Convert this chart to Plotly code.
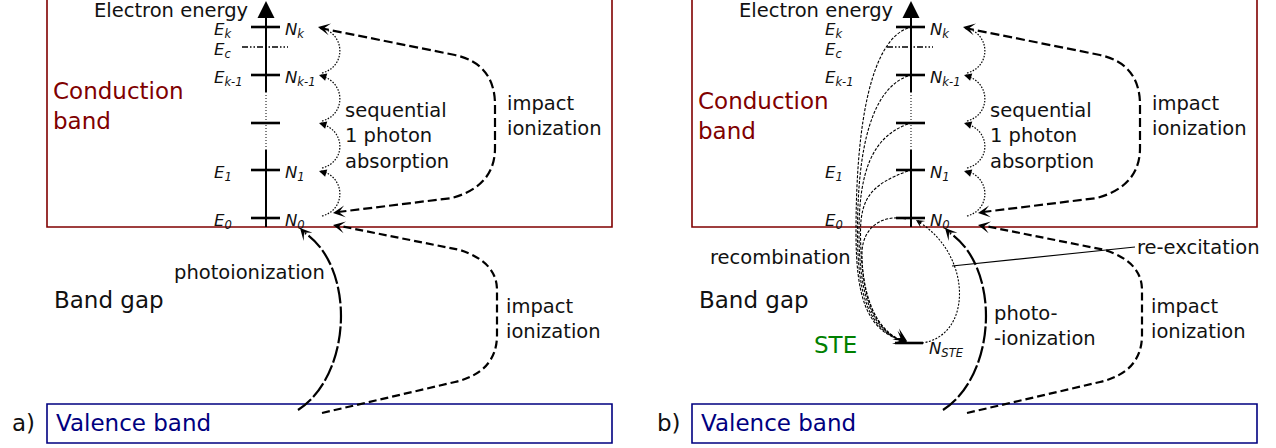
import plotly.graph_objects as go

# Two panels of the same band diagram; panel b sits 645 px to the right.
# Everything is in pixel units of the 1276x448 picture, y growing downward.
PANEL_DX = [0, 645]
PANEL_TAG = ["a)", "b)"]

CB_BOX = [47, -2, 612, 227]      # conduction band box (panel a)
VB_BOX = [47, 404, 612, 443]     # valence band box (panel a)

LEVEL_Y = [27, 75, 123, 170, 218]          # E_k, E_k-1, ..., E_1, E_0
LEVEL_SUB = ["k", "k-1", "", "1", "0"]
EC_Y = 47
AXIS_X = 266
AXIS_TOP = 1
AXIS_BOTTOM = 227
AXIS_DOTTED = [92, 150]
TICK_X = [251, 280]
EC_X = [242, 288]
E_LABEL_X = [212, 823]
N_LABEL_X = 283

# curves of panel a (repeated in b)
IMPACT_UP = [("M", 320, 28), ("L", 455, 55), ("Q", 495, 64, 495, 105),
             ("L", 495, 148), ("Q", 495, 186, 452, 198), ("L", 338, 212)]
IMPACT_DOWN = [("M", 322, 413), ("L", 455, 382), ("Q", 497, 372, 497, 335),
               ("L", 497, 290), ("Q", 497, 262, 460, 250), ("L", 340, 226)]
PHOTO = [("M", 298, 410), ("C", 352, 375, 356, 268, 305, 233)]
SEQ_BULGE_X = 346

# arrow heads: tip x, tip y, direction x, direction y, size
HEADS = [
    (318, 27, -137, -28, 2.0),
    (333, 213, -117, 16, 2.0),
    (333, 225, -125, -26, 2.0),
    (300, 228, -1, -1.1, 2.0),
]
SEQ_HEADS = [(319, 75), (319, 123), (319, 171)]

# panel b only: self-trapped exciton
STE_Y = 343
STE_TICK_X = [895, 923]
RECOMB_MID_X = [856, 857.5, 859, 860.5]
RECOMB_E0 = [("M", 906, 219), ("C", 884, 214, 863, 226, 862, 252),
             ("C", 862, 300, 876, 330, 903, 342)]
REEXC = [("M", 922, 343), ("C", 972, 336, 972, 258, 922, 224)]
REEXC_POINTER = [952, 266, 1135, 247]
B_HEADS = [
    (916, 220, -1, -0.65, 1.4),
    (908, 343, 1, 0.42, 2.4),
    (907, 341, 1, 0.6, 2.2),
]

FONT = "DejaVu Sans"
BIG = 23
SMALL = 19.5
LEVEL = 16.5
DARKRED = "#800000"
NAVY = "#000080"
GREEN = "#008000"
INK = "#111111"


def path(cmds, dx=0):
    parts = []
    for c in cmds:
        op, pts = c[0], c[1:]
        coords = " ".join(f"{pts[i] + dx},{pts[i + 1]}" for i in range(0, len(pts), 2))
        parts.append(f"{op} {coords}")
    return " ".join(parts)


fig = go.Figure()


def line(x0, y0, x1, y1, width=2, dash="solid", color="black"):
    fig.add_shape(type="line", x0=x0, y0=y0, x1=x1, y1=y1, xref="x", yref="y",
                  line=dict(color=color, width=width, dash=dash))


def curve(cmds, dx=0, width=2, dash="solid"):
    fig.add_shape(type="path", path=path(cmds, dx), xref="x", yref="y",
                  line=dict(color="black", width=width, dash=dash))


def head(x, y, ux, uy, size, style=3, back=8):
    n = (ux * ux + uy * uy) ** 0.5
    fig.add_annotation(x=x, y=y, ax=x - ux / n * back, ay=y - uy / n * back,
                       xref="x", yref="y", axref="x", ayref="y", text="",
                       showarrow=True, arrowhead=style, arrowsize=size / 2,
                       arrowwidth=2, arrowcolor="black")


def label(x, y, text, size=SMALL, color=INK, anchor="left"):
    fig.add_annotation(x=x, y=y, text=text, showarrow=False, xref="x", yref="y",
                       xanchor=anchor, yanchor="middle", align="left",
                       font=dict(family=FONT, size=size, color=color))


for p, dx in enumerate(PANEL_DX):
    # band boxes
    fig.add_shape(type="rect", x0=CB_BOX[0] + dx, y0=CB_BOX[1], x1=CB_BOX[2] + dx, y1=CB_BOX[3],
                  line=dict(color=DARKRED, width=1.6))
    fig.add_shape(type="rect", x0=VB_BOX[0] + dx, y0=VB_BOX[1], x1=VB_BOX[2] + dx, y1=VB_BOX[3],
                  line=dict(color=NAVY, width=1.6))

    # energy axis
    ax_x = AXIS_X + dx
    line(ax_x, AXIS_BOTTOM, ax_x, AXIS_DOTTED[1])
    line(ax_x, AXIS_DOTTED[1], ax_x, AXIS_DOTTED[0], width=1.5, dash="1px,2px", color="#555")
    line(ax_x, AXIS_DOTTED[0], ax_x, AXIS_TOP + 12)
    head(ax_x, AXIS_TOP, 0, -1, 3.4, style=2, back=14)
    label(250 + dx, 10, "Electron energy", anchor="right")

    # levels
    for y, sub in zip(LEVEL_Y, LEVEL_SUB):
        line(TICK_X[0] + dx, y, TICK_X[1] + dx, y, width=2.6)
        if sub:
            label(E_LABEL_X[p], y + 3, f"<i>E</i><sub><i>{sub}</i></sub>", size=LEVEL)
            label(N_LABEL_X + dx, y + 3, f"<i>N</i><sub><i>{sub}</i></sub>", size=LEVEL)
    line(EC_X[0] + dx, EC_Y, EC_X[1] + dx, EC_Y, width=1.4, dash="6px,2px,1.5px,2px,1.5px,2px")
    label(E_LABEL_X[p], EC_Y + 3, "<i>E</i><sub><i>c</i></sub>", size=LEVEL)

    # sequential one-photon absorption
    for y_lo, y_hi in zip(LEVEL_Y[1:], LEVEL_Y[:-1]):
        curve([("M", 322, y_lo - 2),
               ("C", SEQ_BULGE_X, y_lo - 8, SEQ_BULGE_X, y_hi + 7, 321, y_hi + 1)],
              dx, width=1.2, dash="1.5px,1.5px")
    for x, y in SEQ_HEADS:
        head(x + dx, y, -1, -0.3, 1.5, style=2, back=6)

    # impact ionization and photoionization
    curve(IMPACT_UP, dx, width=2.2, dash="9px,4px")
    curve(IMPACT_DOWN, dx, width=2.2, dash="8px,4px")
    curve(PHOTO, dx, width=2.2, dash="17px,3px")
    for x, y, ux, uy, s in HEADS:
        head(x + dx, y, ux, uy, s)

    label(52 + dx, 300, "Band gap", size=BIG)
    label(54 + dx, 423, "Valence band", size=BIG, color=NAVY)
    label(10 + dx, 423, PANEL_TAG[p], size=BIG)
    label(343 + dx, 136, "sequential<br>1 photon<br>absorption")
    label(505 + dx, 116, "impact<br>ionization")
    label(504 + dx, 319, "impact<br>ionization")

label(51, 106, "Conduction<br>band", size=BIG, color=DARKRED)
label(696, 116, "Conduction<br>band", size=BIG, color=DARKRED)
label(172, 272, "photoionization")
label(992, 326, "photo-<br>-ionization")

# panel b: recombination into the self-trapped exciton and re-excitation
for y, xm in zip(LEVEL_Y[:4], RECOMB_MID_X):
    curve([("M", 908, y + 1),
           ("C", 872, y + 14, xm, y + 0.45 * (232 - y), xm, 232),
           ("C", xm, 296, 866 + (xm - 856) * 2, 330, 903, 341)],
          width=1.1, dash="3px,1.5px")
curve(RECOMB_E0, width=1.1, dash="3px,1.5px")
curve(REEXC, width=1.1, dash="2px,1.5px")
line(*REEXC_POINTER, width=1.1)
line(STE_TICK_X[0], STE_Y, STE_TICK_X[1], STE_Y, width=2.6)
for x, y, ux, uy, s in B_HEADS:
    head(x, y, ux, uy, s)

label(708, 257, "recombination")
label(1135, 247, "re-excitation")
label(812, 345, "STE", size=BIG, color=GREEN)
label(927, 349, "<i>N</i><sub><i>STE</i></sub>", size=LEVEL)

fig.update_layout(
    width=1276, height=448,
    margin=dict(l=0, r=0, t=0, b=0),
    paper_bgcolor="white", plot_bgcolor="white",
    xaxis=dict(range=[0, 1276], visible=False, fixedrange=True),
    yaxis=dict(range=[448, 0], visible=False, fixedrange=True),
    showlegend=False,
)

fig.write_html("out.html", config={"displayModeBar": False},
               post_script="document.body.style.margin='0';")
